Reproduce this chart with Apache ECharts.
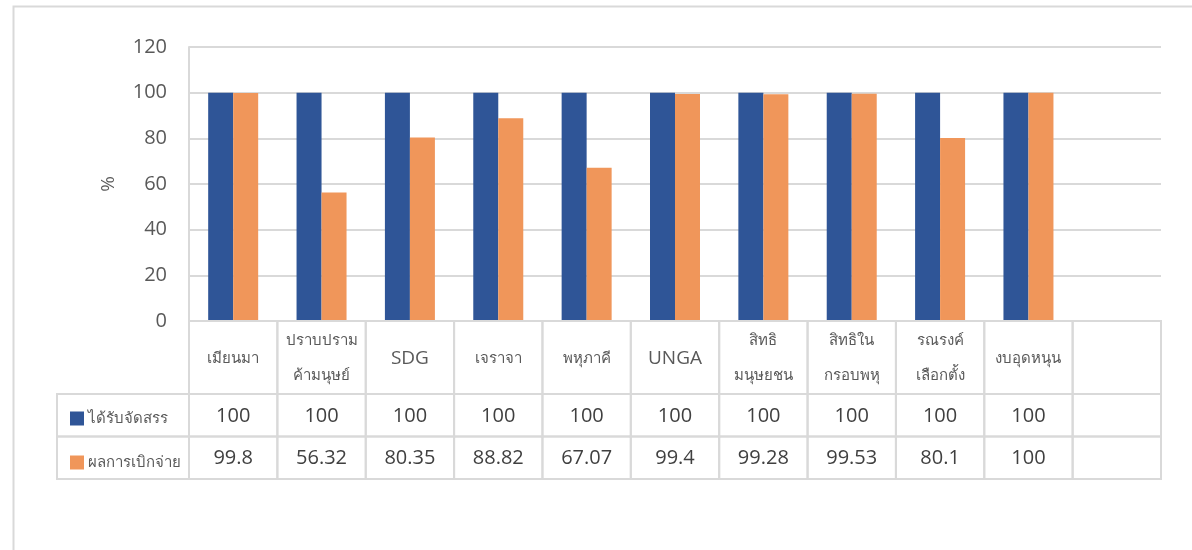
<!DOCTYPE html>
<html>
<head>
<meta charset="utf-8">
<script src="https://cdn.jsdelivr.net/npm/echarts@6/dist/echarts.min.js"></script>
<style>
html,body{margin:0;padding:0;background:#fff;}
#c{width:1192px;height:550px;}
</style>
</head>
<body>
<div id="c"></div>
<script>
// ---- data ----
var categories = ['เมียนมา', 'ปราบปราม\nค้ามนุษย์', 'SDG', 'เจราจา', 'พหุภาคี', 'UNGA', 'สิทธิ\nมนุษยชน', 'สิทธิใน\nกรอบพหุ', 'รณรงค์\nเลือกตั้ง', 'งบอุดหนุน', ''];
var allocated = [100, 100, 100, 100, 100, 100, 100, 100, 100, 100, null];
var disbursed = [99.8, 56.32, 80.35, 88.82, 67.07, 99.4, 99.28, 99.53, 80.1, 100, null];
var seriesNames = ['ได้รับจัดสรร', 'ผลการเบิกจ่าย'];
var yTicks = [0, 20, 40, 60, 80, 100, 120];

// ---- layout / style ----
var BLUE = '#2F5597', ORANGE = '#F0965A';
var LINE = '#d9d9d9';
var FONT = '"Open Sans", "Noto Sans", "DejaVu Sans", sans-serif';
var nCat = categories.length;
var legendColW = 132 / (972 / nCat); // legend column width in category units
var rowEdges = [0, 73, 115.5, 158];

var cells = [];
var cellText = [];
var cellKind = [];
for (var i = 0; i < nCat; i++) {
  cells.push([i, rowEdges[0], i + 1, rowEdges[1]]);
  cellText.push(categories[i]); cellKind.push('head');
  cells.push([i, rowEdges[1], i + 1, rowEdges[2]]);
  cellText.push(allocated[i] == null ? '' : String(allocated[i])); cellKind.push('val');
  cells.push([i, rowEdges[2], i + 1, rowEdges[3]]);
  cellText.push(disbursed[i] == null ? '' : String(disbursed[i])); cellKind.push('val');
}
cells.push([-legendColW, rowEdges[1], 0, rowEdges[2]]); cellText.push(''); cellKind.push('leg');
cells.push([-legendColW, rowEdges[2], 0, rowEdges[3]]); cellText.push(''); cellKind.push('leg');

function isLatin(s) { return /^[\x00-\x7F]*$/.test(s); }

var chart = echarts.init(document.getElementById('c'), null, {renderer: 'canvas'});
chart.setOption({
  animation: false,
  backgroundColor: '#fff',
  color: [BLUE, ORANGE],
  graphic: [{
    type: 'rect', left: 11, top: 4, shape: {width: 1300, height: 700},
    style: {fill: 'none', stroke: LINE, lineWidth: 2}, silent: true, z: -1
  }],
  legend: {
    orient: 'vertical', left: 65, top: 406,
    itemWidth: 14, itemHeight: 14, itemGap: 29, icon: 'rect',
    data: seriesNames,
    textStyle: {fontSize: 15, color: '#595959', fontFamily: FONT, lineHeight: 14, padding: [0, 0, 0, -1]}
  },
  grid: [
    {left: 189, right: 31, top: 47, bottom: 229, containLabel: false},
    {left: 57, right: 31, top: 321, bottom: 71, containLabel: false}
  ],
  xAxis: [
    {type: 'category', gridIndex: 0, data: categories,
     axisLine: {show: false}, axisTick: {show: false}, axisLabel: {show: false}, splitLine: {show: false}},
    {type: 'value', gridIndex: 1, min: -legendColW, max: nCat, show: false}
  ],
  yAxis: [
    {type: 'value', gridIndex: 0, min: 0, max: 120, interval: 20,
     name: '%', nameLocation: 'middle', nameGap: 71, nameRotate: 90,
     nameTextStyle: {fontSize: 19, color: '#595959', fontFamily: FONT},
     axisLine: {show: true, lineStyle: {color: LINE, width: 2}},
     axisTick: {show: false},
     axisLabel: {fontSize: 20, color: '#595959', fontFamily: FONT, margin: 22,
       formatter: function (v) { return yTicks.indexOf(v) >= 0 ? String(v) : ''; }},
     splitLine: {show: true, lineStyle: {color: LINE, width: 2}}},
    {type: 'value', gridIndex: 1, min: rowEdges[0], max: rowEdges[3], inverse: true, show: false}
  ],
  series: [
    {name: seriesNames[0], type: 'bar', xAxisIndex: 0, yAxisIndex: 0, data: allocated,
     barWidth: 25, barGap: '0%', itemStyle: {color: BLUE}},
    {name: seriesNames[1], type: 'bar', xAxisIndex: 0, yAxisIndex: 0, data: disbursed,
     barWidth: 25, barGap: '0%', itemStyle: {color: ORANGE}},
    {type: 'custom', xAxisIndex: 1, yAxisIndex: 1, data: cells, silent: true, z: 5,
     renderItem: function (params, api) {
       var p0 = api.coord([api.value(0), api.value(1)]);
       var p1 = api.coord([api.value(2), api.value(3)]);
       var t = cellText[params.dataIndex];
       var kind = cellKind[params.dataIndex];
       var latin = isLatin(t);
       var fs = kind === 'val' ? 20 : (latin ? 19 : 15);
       return {
         type: 'group',
         children: [
           {type: 'rect', shape: {x: p0[0], y: p0[1], width: p1[0] - p0[0], height: p1[1] - p0[1]},
            style: {fill: 'none', stroke: LINE, lineWidth: 2}},
           {type: 'text', style: {text: t, x: (p0[0] + p1[0]) / 2, y: (p0[1] + p1[1]) / 2 + 1,
             align: 'center', verticalAlign: 'middle', fontSize: fs, fontFamily: FONT,
             fill: kind === 'val' ? '#404040' : '#595959', lineHeight: 35}}
         ]
       };
     }}
  ]
});
</script>
</body>
</html>
